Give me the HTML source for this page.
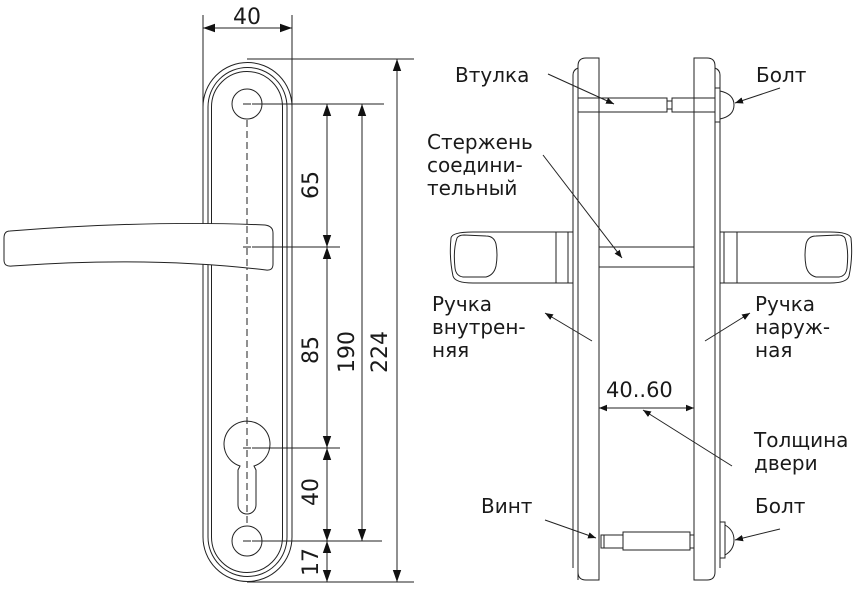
<!DOCTYPE html>
<html><head><meta charset="utf-8"><style>
body{margin:0;background:#fff}
svg{display:block}
text{font-family:"DejaVu Sans","Liberation Sans",sans-serif;fill:#1a1a1a}
</style></head><body>
<svg width="861" height="589" viewBox="0 0 861 589" xmlns="http://www.w3.org/2000/svg">
<defs>
<marker id="a" viewBox="0 0 10 10" refX="10" refY="5" markerWidth="8" markerHeight="8" orient="auto-start-reverse" markerUnits="userSpaceOnUse"><path d="M0,1 L10,5 L0,9z" fill="#111"/></marker>
<marker id="b" viewBox="0 0 10 10" refX="10" refY="5" markerWidth="12" markerHeight="12" orient="auto-start-reverse" markerUnits="userSpaceOnUse"><path d="M0,1.5 L10,5 L0,8.5z" fill="#111"/></marker>
</defs>
<g fill="none" stroke="#222" stroke-width="1">
<path d="M203,107 A44.5,44.5 0 0 1 292,107 V537 A44.5,44.5 0 0 1 203,537 Z"/>
<path d="M208,107 A39.5,39.5 0 0 1 287,107 V537 A39.5,39.5 0 0 1 208,537 Z"/>
<path d="M211.5,107 A35.5,35.5 0 0 1 282.5,107 V537 A35.5,35.5 0 0 1 211.5,537 Z"/>
<circle cx="247" cy="104" r="15"/>
<circle cx="247" cy="541" r="15"/>
<path d="M238,505 V470 L240,466 A23,23 0 1 1 254,466 L256,470 V505 A9,9 0 0 1 238,505Z"/>
<line x1="247" y1="120" x2="247" y2="526" stroke-dasharray="7,4"/>
<path d="M10,231 Q150,220 265,225 Q273,226 273,233 V264 Q273,271 266,270 Q150,256 12,266 Q4,267 4,260 V238 Q4,231 10,231Z" fill="#fff"/>
<line x1="247" y1="226" x2="247" y2="269" stroke-dasharray="7,4"/>
<path d="M243,104h8M243,247h8M243,448h8M243,541h8"/>
<line x1="203" y1="15" x2="203" y2="107"/>
<line x1="292" y1="15" x2="292" y2="107"/>
<line x1="203" y1="28" x2="292" y2="28" marker-start="url(#b)" marker-end="url(#b)"/>
<line x1="247" y1="59" x2="414" y2="59"/>
<line x1="252" y1="104" x2="384" y2="104"/>
<line x1="252" y1="247" x2="340" y2="247"/>
<line x1="252" y1="448" x2="340" y2="448"/>
<line x1="252" y1="541" x2="382" y2="541"/>
<line x1="247" y1="582" x2="414" y2="582"/>
<line x1="397" y1="59" x2="397" y2="582" marker-start="url(#b)" marker-end="url(#b)"/>
<line x1="362" y1="104" x2="362" y2="541" marker-start="url(#b)" marker-end="url(#b)"/>
<line x1="327" y1="104" x2="327" y2="247" marker-start="url(#b)" marker-end="url(#b)"/>
<line x1="327" y1="247" x2="327" y2="448" marker-start="url(#b)" marker-end="url(#b)"/>
<line x1="327" y1="448" x2="327" y2="541" marker-start="url(#b)" marker-end="url(#b)"/>
<line x1="327" y1="541" x2="327" y2="582" marker-start="url(#b)" marker-end="url(#b)"/>

<path d="M578,580 V66 Q578,58 586,58 H599 V580 H586 Q578,580 578,572Z"/>
<path d="M573,568 V75 Q573,70 578,68"/>
<path d="M694,580 V58 H707 Q715,58 715,66 V572 Q715,580 707,580Z"/>
<path d="M720,568 V75 Q720,70 715,68"/>
<rect x="578" y="98" width="89" height="14"/>
<rect x="667" y="101" width="5" height="8"/>
<rect x="672" y="98" width="43" height="14"/>
<rect x="715" y="88" width="5" height="34"/>
<path d="M720,91 Q734,94 734,105 Q734,116 720,119"/>
<rect x="599" y="247" width="95" height="20"/>
<path d="M573,232 H473 Q452,232 451,238 Q449,257 453,276 Q455,283 473,283 H573"/>
<path d="M457,238 Q453,250 455,268 Q456,276 463,277 L486,277 Q494,275 496,266 Q498,255 496,244 Q494,236 486,236 L464,235 Q459,235 457,238Z"/>
<line x1="556" y1="232" x2="556" y2="283"/><line x1="568" y1="232" x2="568" y2="283"/>
<path d="M720,232 H830 Q849,232 851,238 Q853,257 849,276 Q847,283 830,283 H720"/>
<path d="M845,238 Q849,250 847,268 Q846,276 839,277 L816,277 Q808,275 806,266 Q804,255 806,244 Q808,236 816,236 L838,235 Q843,235 845,238Z"/>
<line x1="724" y1="232" x2="724" y2="283"/><line x1="737" y1="232" x2="737" y2="283"/>
<rect x="601" y="535" width="22" height="13"/>
<line x1="604" y1="535" x2="604" y2="548"/>
<rect x="623" y="532" width="67" height="18"/>
<rect x="690" y="535" width="4" height="13"/>
<rect x="720" y="522" width="5" height="36"/>
<path d="M725,525 Q734,530 734,540 Q734,550 725,555"/>
<line x1="548" y1="74" x2="614" y2="104" marker-end="url(#a)"/>
<line x1="780" y1="88" x2="735" y2="103" marker-end="url(#a)"/>
<line x1="543" y1="155" x2="622" y2="258" marker-end="url(#a)"/>
<line x1="592" y1="341" x2="545" y2="313" marker-end="url(#a)"/>
<line x1="705" y1="341" x2="750" y2="313" marker-end="url(#a)"/>
<line x1="732" y1="466" x2="643" y2="410" marker-end="url(#a)"/>
<line x1="599" y1="408" x2="694" y2="408" marker-start="url(#a)" marker-end="url(#a)"/>
<line x1="545" y1="520" x2="596" y2="538" marker-end="url(#a)"/>
<line x1="780" y1="529" x2="735" y2="540" marker-end="url(#a)"/>
</g>
<g font-size="22">
<text x="247" y="24" text-anchor="middle">40</text>
<text transform="translate(318,185) rotate(-90)" text-anchor="middle">65</text>
<text transform="translate(318,350) rotate(-90)" text-anchor="middle">85</text>
<text transform="translate(354,352) rotate(-90)" text-anchor="middle">190</text>
<text transform="translate(387,352) rotate(-90)" text-anchor="middle">224</text>
<text transform="translate(318,492) rotate(-90)" text-anchor="middle">40</text>
<text transform="translate(318,562) rotate(-90)" text-anchor="middle">17</text>
</g>
<g font-size="20">
<text x="455" y="82">Втулка</text>
<text x="756" y="82">Болт</text>
<text x="427" y="149">Стержень</text>
<text x="427" y="172">соедини-</text>
<text x="427" y="195">тельный</text>
<text x="432" y="311">Ручка</text>
<text x="432" y="334">внутрен-</text>
<text x="432" y="357">няя</text>
<text x="755" y="311">Ручка</text>
<text x="755" y="334">наруж-</text>
<text x="755" y="357">ная</text>
<text x="606" y="397" font-size="21">40..60</text>
<text x="754" y="447">Толщина</text>
<text x="754" y="470">двери</text>
<text x="481" y="513">Винт</text>
<text x="755" y="513">Болт</text>
</g>
</svg>
</body></html>
